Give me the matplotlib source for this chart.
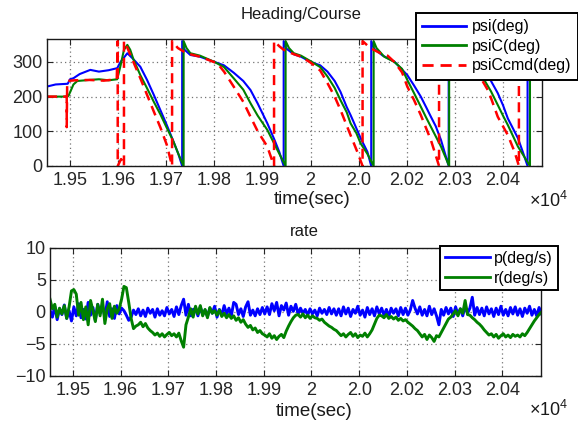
import numpy as np
import matplotlib
matplotlib.use("Agg")
import matplotlib.pyplot as plt

plt.rcParams['font.family'] = ['Liberation Sans', 'DejaVu Sans']
plt.rcParams['mathtext.fontset'] = 'custom'
plt.rcParams['mathtext.rm'] = 'Liberation Sans'

# ---------------- data: heading / course (deg) ----------------
psi_t = [19452, 19470, 19495, 19500, 19507, 19520, 19542, 19560, 19580, 19598,
         19605, 19619, 19630, 19646, 19660, 19674, 19688, 19701, 19715, 19725,
         19733, 19733, 19738, 19750, 19770, 19800, 19820, 19840, 19860, 19875,
         19890, 19910, 19925, 19935, 19944, 19944, 19950, 19965, 19980, 20000,
         20020, 20035, 20050, 20062, 20075, 20083, 20090, 20104, 20118, 20126,
         20126, 20132, 20150, 20174, 20201, 20215, 20229, 20240, 20250, 20260,
         20271, 20287, 20287, 20295, 20310, 20330, 20361, 20375, 20389, 20400,
         20410, 20420, 20431, 20440, 20451, 20451, 20465, 20481]
psi_v = [229, 235, 237, 250, 253, 265, 277, 272, 276, 282,
         300, 325, 310, 286, 248, 205, 160, 118, 70, 35,
         0, 360, 335, 320, 315, 300, 290, 269, 245, 219,
         180, 123, 75, 40, 0, 360, 338, 322, 315, 300,
         290, 272, 245, 214, 170, 147, 125, 80, 41, 0,
         360, 338, 318, 301, 262, 232, 200, 170, 142, 115,
         75, 0, 360, 338, 318, 300, 272, 245, 210, 175,
         137, 110, 80, 45, 0, 360, 352, 348]

psic_t = [19452, 19495, 19497, 19507, 19515, 19540, 19560, 19580, 19598, 19605,
          19612, 19619, 19625, 19632, 19646, 19660, 19674, 19688, 19701, 19715,
          19725, 19736, 19736, 19742, 19750, 19770, 19800, 19820, 19840, 19860,
          19875, 19890, 19910, 19931, 19948, 19948, 19955, 19965, 19980, 20000,
          20020, 20035, 20050, 20062, 20075, 20083, 20095, 20104, 20118, 20131,
          20131, 20137, 20153, 20174, 20190, 20201, 20215, 20229, 20240, 20250,
          20271, 20288, 20288, 20295, 20310, 20330, 20345, 20361, 20375, 20389,
          20400, 20410, 20431, 20456, 20456, 20465, 20481]
psic_v = [200, 200, 203, 235, 245, 248, 250, 247, 250, 290,
          335, 349, 335, 306, 262, 224, 185, 148, 110, 70,
          35, 0, 360, 340, 325, 318, 300, 285, 253, 220,
          181, 145, 104, 46, 0, 360, 340, 325, 318, 302,
          285, 258, 225, 190, 155, 123, 95, 65, 35, 0,
          360, 340, 315, 300, 280, 248, 210, 171, 140, 113,
          56, 0, 360, 340, 318, 300, 280, 248, 215, 176,
          145, 118, 56, 0, 360, 350, 345]

cmd_t = [19452, 19490, 19493, 19493, 19494, 19510, 19540, 19570, 19597, 19599,
         19599, 19606, 19612, 19612, 19615, 19630, 19646, 19660, 19674, 19688,
         19701, 19712, 19712, 19724, 19736, 19750, 19770, 19806, 19820, 19840,
         19860, 19875, 19890, 19910, 19924, 19924, 19935, 19944, 19960, 19980,
         20000, 20020, 20035, 20050, 20062, 20083, 20097, 20108, 20108, 20120,
         20131, 20145, 20160, 20174, 20190, 20201, 20215, 20229, 20250, 20267,
         20267, 20290, 20310, 20330, 20354, 20370, 20389, 20410, 20424, 20433,
         20433, 20450, 20481]
cmd_v = [200, 200, 200, 112, 245, 247, 248, 246, 250, 360,
         0, 20, 0, 360, 354, 305, 253, 205, 157, 110,
         61, 0, 360, 340, 330, 322, 315, 296, 272, 229,
         185, 142, 100, 56, 0, 360, 345, 335, 325, 315,
         298, 275, 239, 200, 162, 89, 41, 0, 360, 345,
         335, 325, 318, 300, 270, 229, 190, 147, 75, 0,
         360, 330, 315, 295, 253, 215, 142, 89, 41, 0,
         360, 345, 335]

# ---------------- data: rates (deg/s), sampled every 5 s from t0 ----------------
rate_t0 = 19452
rate_dt = 5
p_vals = [0.3, -0.8, 0.9, -1.2, 0.5, -0.4, 1.1, -1.0, 0.2, -1.4,
          0.8, -0.6, 1.3, -0.9, 0.4, -1.1, 1.5, -0.5, 0.7, -1.3,
          1.2, -0.2, 0.9, -0.8, 1.6, -0.7, 0.5, -1.0, 1.0, -0.3,
          0.6, 0.2, -0.5, -1.3, -0.8, 0.3, -0.4,
          0.5, -0.6, 0.3, -0.7, 0.6, -0.2, 0.4, -0.8, 0.5, -0.5,
          0.2, -0.6, 0.7, -0.3, 0.4, -0.7, 0.8, -0.4, 1.0, 2.0,
          -0.5, 1.2, -0.6, 0.4,
          0.5, -0.6, 0.8, -0.4, 0.3, -0.7, 0.6, -0.2, 0.9, -0.8,
          0.4, -0.5, 1.0, -0.3, 0.6, -0.6, 1.5, 1.2, -0.4, 0.5,
          -0.7, 0.8, 1.6, -0.5, 0.3, -0.6, 0.5, -0.4, 0.7, -0.3,
          0.8, -0.4, 1.3, 0.2, 1.5, -0.6, 1.0, 0.3, 1.4, -0.5,
          0.9, 0.1, 1.2, -0.3, 0.6, -0.2, 0.4, -0.5, 0.5, -0.3,
          0.3, -0.6, 0.6, -0.2, 0.4, -0.4, 0.7, -0.3, 0.5, -0.5,
          0.5, -0.6, 0.8, -0.3, 0.6, -0.7, 0.4, -0.2, 0.9, -0.5,
          0.3, -0.8, 0.7, -0.4, 0.5, -0.6, 0.8, -0.3, 0.6, -0.5,
          0.4, -0.7, 0.6, -0.2, 0.5, -0.6, 0.7, -0.4, 0.6, -0.5,
          0.3, 1.8, 0.6, -0.3, 0.8, -0.5, 0.4, -0.6, 0.9, -0.4,
          0.5, -0.6, -2.0, 0.4, -0.5, 0.7, -0.3, 0.6, -0.7, 0.8,
          -0.4, 0.5, -0.6, 0.9, -0.2, 0.6, 2.3, -0.5, 0.7, -0.4,
          0.6, -0.6, 0.8, -0.3, 0.5, -0.7, 0.6, -0.4, 0.9, -0.5,
          0.4, -0.6, 0.7, -0.3, 0.8, -0.5, 0.5, -0.7, 0.6, -0.2,
          0.9, -0.5, 0.4, -0.6, 0.7, -0.3]
r_vals = [2.0, 0.5, 1.2, -0.8, 0.6, -0.3, 1.0, -1.0, 0.8,
          3.3, 3.5, 2.8,
          -0.5, 1.5, -1.2, 0.8, -2.0, 1.8, 0.2, -1.5, 1.2, -0.6,
          2.0, -1.8, 0.5, 1.3, -1.0, 0.9, -0.2,
          0.5, 2.0, 4.0, 3.8, 1.5, -1.0,
          -2.6, -2.2, -2.0, -1.6, -2.3, -1.8, -2.5, -2.9,
          -3.2, -3.6, -3.3, -3.8, -3.4, -3.9, -3.5, -3.2, -3.7, -3.4, -3.9, -3.3,
          -4.5, -5.5, -2.0, -0.8,
          0.5, -0.8, 0.9, -0.3, 1.0, -0.6, 0.4, -0.9, 0.7, -0.2,
          0.2, -0.5, 0.3, -0.7, -0.2, -0.9, -0.4, -1.0, -0.6, -1.3, -0.9, -1.6, -1.2,
          -1.9, -2.4, -2.1, -2.8, -2.5, -3.2, -2.9, -3.4,
          -3.6, -3.9, -3.4, -4.1, -3.7, -4.3, -3.8, -3.5, -4.0,
          -3.0, -2.2, -1.5, -0.9, -0.5,
          -0.4, -0.8, -0.3, -0.9, -0.5, -1.0, -0.6, -0.9,
          -1.0, -1.3, -1.1, -1.6, -1.9, -2.2, -2.4, -2.7, -2.9,
          -3.3, -3.7, -3.4, -3.9, -3.5, -3.2, -3.8, -3.4, -4.0, -3.6,
          -3.8, -3.3, -3.9, -3.4,
          -2.8, -1.9, -1.0, -0.5,
          -0.6, -0.9, -0.4, -1.0, -0.7, -1.1, -0.8, -1.3, -1.0, -1.4, -1.2,
          -1.6, -1.9, -2.2, -2.6, -2.9,
          -3.4, -3.9, -3.5, -4.3, -3.6, -4.0, -4.6, -3.7, -3.9,
          -3.2, -2.5, -1.8, -1.1,
          -0.8, -0.3, 0.2, -0.6, 0.5, -0.2, 1.8, -0.4,
          -0.5, -0.9, -1.2, -1.6, -1.9, -2.3, -2.8,
          -3.2, -3.6, -3.4, -3.9, -3.5, -4.1, -3.7, -3.4, -3.9, -3.6, -4.0, -3.5, -3.8,
          -3.6, -3.9, -3.4, -3.7, -3.2,
          -2.6, -2.0, -1.4, -0.9, -0.4, 0.0]

xtick_pos = [19500, 19600, 19700, 19800, 19900, 20000, 20100, 20200, 20300, 20400]
xtick_labels = ['1.95', '1.96', '1.97', '1.98', '1.99', '2', '2.0', '2.02', '2.03', '2.04']
top_yticks = [0, 100, 200, 300]
bot_yticks = [-10, -5, 0, 5, 10]

W, H = 578, 422
fig = plt.figure(figsize=(W / 100, H / 100), dpi=100)
fig.patch.set_facecolor('white')

def fx(px):
    return px / W

def fy(py):
    return 1 - py / H

ax1 = fig.add_axes([fx(47), fy(166), fx(542) - fx(47), fy(39) - fy(166)])
ax2 = fig.add_axes([fx(50), fy(376), fx(541) - fx(50), fy(248) - fy(376)])

BLUE, GREEN, RED = '#0000FF', '#008000', '#FF0000'

l1, = ax1.plot(psi_t, psi_v, color=BLUE, lw=1.5, label='psi(deg)')
l2, = ax1.plot(psic_t, psic_v, color=GREEN, lw=1.5, label='psiC(deg)')
l3, = ax1.plot(cmd_t, cmd_v, color=RED, lw=1.8, ls=(0, (4, 2.5)), label='psiCcmd(deg)')
ax1.set_ylim(0, 366)
ax1.set_yticks(top_yticks)

rt_p = rate_t0 + rate_dt * np.arange(len(p_vals))
rt_r = rate_t0 + rate_dt * np.arange(len(r_vals))
m1, = ax2.plot(rt_p, p_vals, color=BLUE, lw=2.1, label='p(deg/s)')
m2, = ax2.plot(rt_r, r_vals, color=GREEN, lw=2.1, label='r(deg/s)')
ax2.set_ylim(-10, 10)
ax2.set_yticks(bot_yticks)

for ax in (ax1, ax2):
    ax.set_xlim(19452, 20481)
    ax.set_xticks(xtick_pos)
    ax.set_xticklabels(xtick_labels)
    ax.grid(True, color='0.45', ls=(0, (1, 2.5)), lw=0.9)
    ax.tick_params(direction='in', length=4, width=0.8, top=True, right=True,
                   labelsize=13, pad=4, colors='0.15')
    ax.tick_params(axis='y', pad=3)
    for s in ax.spines.values():
        s.set_color('0.1')
        s.set_linewidth(1.0)
    ax.set_facecolor('white')

# titles, labels, offset text
fig.text(fx(301), fy(14), 'Heading/Course', ha='center', va='center', fontsize=12, color='0.1')
fig.text(fx(304), fy(231), 'rate', ha='center', va='center', fontsize=12, color='0.1')
fig.text(fx(312), fy(200), 'time(sec)', ha='center', va='center', fontsize=13.5, color='0.1')
fig.text(fx(314), fy(411), 'time(sec)', ha='center', va='center', fontsize=13.5, color='0.1')
fig.text(fx(529), fy(207), r'$\mathregular{\times 10^{4}}$', ha='left', va='baseline', fontsize=13, color='0.1')
fig.text(fx(529), fy(416), r'$\mathregular{\times 10^{4}}$', ha='left', va='baseline', fontsize=13, color='0.1')

leg1 = fig.legend(handles=[l1, l2, l3], loc='upper left', bbox_to_anchor=(fx(416), fy(13)),
                  fontsize=11.5, frameon=True, fancybox=False, framealpha=1, edgecolor='black',
                  handlelength=2.7, handletextpad=0.4, labelspacing=0.28, borderpad=0.4,
                  borderaxespad=0)
leg1.get_frame().set_linewidth(1.4)
leg2 = fig.legend(handles=[m1, m2], loc='upper left', bbox_to_anchor=(fx(440), fy(246)),
                  fontsize=11.5, frameon=True, fancybox=False, framealpha=1, edgecolor='black',
                  handlelength=2.8, handletextpad=0.3, labelspacing=0.3, borderpad=0.3,
                  borderaxespad=0)
leg2.get_frame().set_linewidth(1.4)
for lg in (leg1, leg2):
    for line in lg.get_lines():
        line.set_linewidth(2.0)

fig.savefig('out.png', dpi=100, facecolor='white')
